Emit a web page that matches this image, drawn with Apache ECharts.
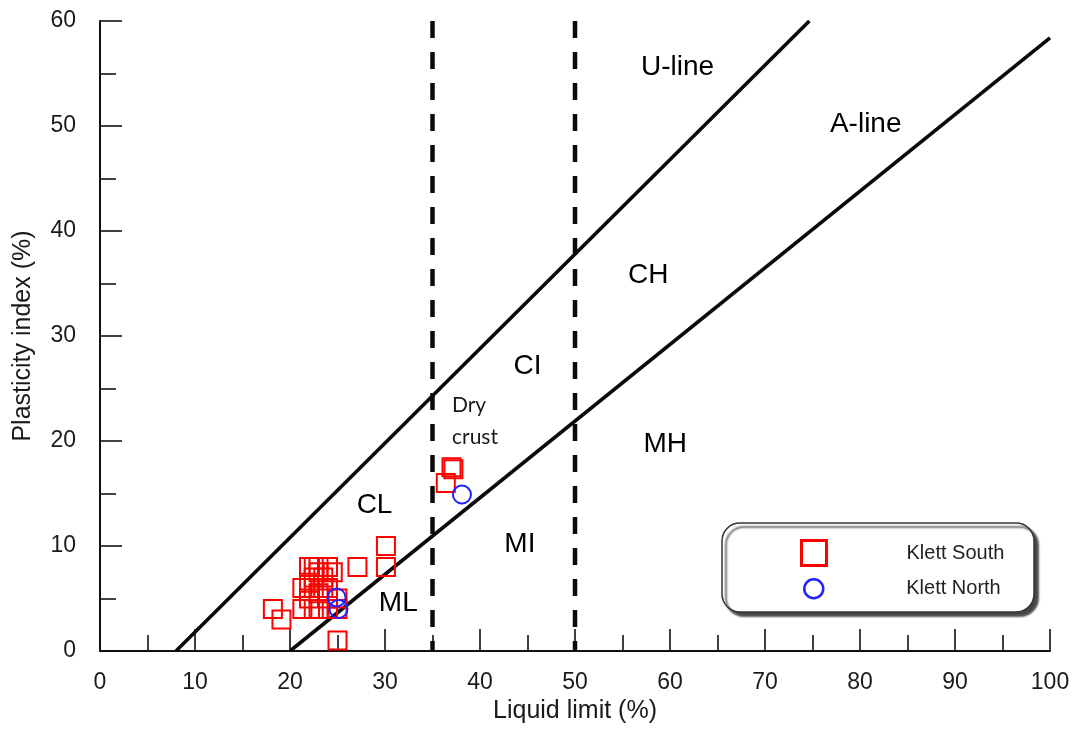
<!DOCTYPE html>
<html>
<head>
<meta charset="utf-8">
<title>Plasticity chart</title>
<script src="https://cdn.jsdelivr.net/npm/echarts@6/dist/echarts.min.js"></script>
<style>
  html, body { margin: 0; padding: 0; background: #fff; }
  #chart { width: 1074px; height: 729px; }
</style>
</head>
<body>
<div id="chart"></div>
<script>
// Casagrande plasticity chart: liquid limit vs plasticity index
const xTicks = { min: 0, max: 100, step: 10 };
const yTicks = { min: 0, max: 60, step: 10 };

// Reference lines: [liquid limit, plasticity index]
const uLine = [[8, 0], [74.67, 60]];
const aLine = [[20, 0], [100, 58.4]];
const boundary35 = [[35, 60], [35, 0]];
const boundary50 = [[50, 60], [50, 0]];

// Sample data
const klettSouth = [
  [18.2, 4], [19.1, 3], [25, 1], [27.1, 8], [30.1, 10], [30.1, 8],
  [36.4, 16], [37, 17.5], [37.2, 17.3],
  [22, 8], [22.5, 8], [23, 8], [24, 8], [24.5, 7.5], [23, 7.5], [22.5, 7],
  [23.5, 7], [22, 6.5], [21.3, 6], [22.5, 6], [23.5, 6], [24, 6], [22, 5],
  [23, 5.5], [24, 5], [21.3, 4], [22.5, 4], [23, 4], [24, 4], [25, 5], [25, 4]
];
const klettNorth = [[24.9, 5.1], [25.1, 4.0], [38.1, 14.9]];

// Zone and line annotations
const zoneNames = ['U-line', 'A-line', 'CH', 'CI', 'MH', 'CL', 'MI', 'ML'];
const zonePos = [
  [60.8, 55.6], [80.6, 50.2], [57.7, 35.8], [45.0, 27.1],
  [59.5, 19.7], [28.9, 13.9], [44.2, 10.2], [31.4, 4.5]
];
const dryCrustText = 'Dry\ncrust';
const dryCrustPos = [37.05, 21.9];

const FONT = '"Liberation Sans", Arial, Helvetica, sans-serif';

const chart = echarts.init(document.getElementById('chart'), null, { renderer: 'canvas' });

function axisCommon(t) {
  return {
    type: 'value',
    min: t.min, max: t.max, interval: t.step,
    splitLine: { show: false },
    axisLine: { show: true, lineStyle: { color: '#111', width: 2 } },
    axisTick: { show: true, inside: true, length: 22, lineStyle: { color: '#111', width: 1.6 } },
    minorTick: { show: true, splitNumber: 2, length: 16, lineStyle: { color: '#111', width: 1.6 } },
    axisLabel: { color: '#1a1a1a', fontFamily: FONT, fontSize: 23 },
    nameTextStyle: { color: '#1a1a1a', fontFamily: FONT, fontSize: 25 }
  };
}

const xAxis = Object.assign(axisCommon(xTicks), {
  name: 'Liquid limit (%)',
  nameLocation: 'middle',
  nameGap: 48
});
xAxis.axisLabel.margin = 20;

const yAxis = Object.assign(axisCommon(yTicks), {
  name: 'Plasticity index (%)',
  nameLocation: 'middle',
  nameGap: 64
});
yAxis.axisLabel.margin = 24;

const lineStyleSolid = { color: '#0a0a0a', width: 3.6 };
const lineStyleDash = { color: '#0a0a0a', width: 4.5, type: [17, 14] };

function refLine(name, data, style) {
  return {
    name: name, type: 'line', data: data, symbol: 'none',
    lineStyle: style, silent: true, z: 2, animation: false
  };
}

const option = {
  backgroundColor: '#ffffff',
  animation: false,
  grid: { left: 100, right: 24, top: 21, bottom: 77 },
  xAxis: xAxis,
  yAxis: yAxis,
  graphic: [{
    type: 'rect',
    shape: { x: 722, y: 523, width: 312, height: 89, r: 18 },
    style: {
      fill: '#ffffff', stroke: '#333', lineWidth: 1.5,
      shadowColor: 'rgba(50,50,50,0.9)', shadowBlur: 2,
      shadowOffsetX: 4, shadowOffsetY: 4
    },
    z: 10
  }],
  legend: [{
    data: [{
      name: 'Klett South', icon: 'rect',
      itemStyle: { color: 'rgba(0,0,0,0)', borderColor: '#ff0000', borderWidth: 3 }
    }],
    left: 800, top: 539, padding: 0,
    itemWidth: 25, itemHeight: 25,
    selectedMode: false, z: 20,
    textStyle: { color: '#222', fontFamily: FONT, fontSize: 20, padding: [0, 0, 0, 75] }
  }, {
    data: [{
      name: 'Klett North', icon: 'circle',
      itemStyle: { color: 'rgba(0,0,0,0)', borderColor: '#1f1fff', borderWidth: 2.5 }
    }],
    left: 803, top: 578, padding: 0,
    itemWidth: 19, itemHeight: 19,
    selectedMode: false, z: 20,
    textStyle: { color: '#222', fontFamily: FONT, fontSize: 20, padding: [0, 0, 0, 78] }
  }],
  series: [
    refLine('U-line', uLine, lineStyleSolid),
    refLine('A-line', aLine, lineStyleSolid),
    refLine('LL35', boundary35, lineStyleDash),
    refLine('LL50', boundary50, lineStyleDash),
    {
      name: 'Klett South', type: 'scatter', data: klettSouth,
      symbol: 'rect', symbolSize: 18, z: 4,
      itemStyle: { color: 'rgba(0,0,0,0)', borderColor: '#ff0000', borderWidth: 2, opacity: 1 }
    },
    {
      name: 'Klett North', type: 'scatter', data: klettNorth,
      symbol: 'circle', symbolSize: 18, z: 5,
      itemStyle: { color: 'rgba(0,0,0,0)', borderColor: '#1f1fff', borderWidth: 2, opacity: 1 }
    },
    {
      name: 'zones', type: 'scatter', silent: true, symbolSize: 0, z: 6,
      itemStyle: { opacity: 1 },
      data: zoneNames.map((n, i) => ({ name: n, value: zonePos[i] })).concat([{
        name: dryCrustText, value: dryCrustPos,
        label: {
          position: 'right', distance: 0, fontFamily: 'Lato, "Open Sans", sans-serif',
          fontSize: 21, lineHeight: 32, color: '#1a1a1a', align: 'left'
        }
      }]),
      label: {
        show: true, position: 'inside', formatter: '{b}',
        color: '#000', fontFamily: FONT, fontSize: 28
      }
    }
  ]
};

chart.setOption(option);
</script>
</body>
</html>
